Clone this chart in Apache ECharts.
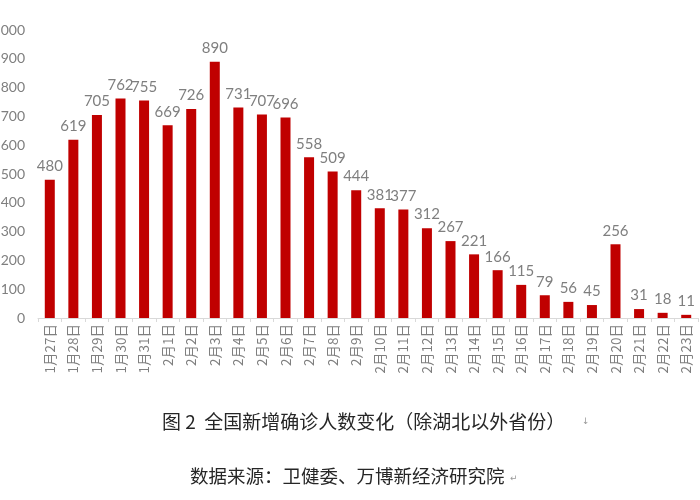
<!DOCTYPE html>
<html>
<head>
<meta charset="utf-8">
<script src="https://cdn.jsdelivr.net/npm/echarts@6/dist/echarts.min.js"></script>
<style>html,body{margin:0;padding:0;background:#fff}#c{width:700px;height:500px}</style>
</head>
<body>
<div id="c"></div>
<script>
var categories = ['1月27日','1月28日','1月29日','1月30日','1月31日','2月1日','2月2日','2月3日','2月4日','2月5日','2月6日','2月7日','2月8日','2月9日','2月10日','2月11日','2月12日','2月13日','2月14日','2月15日','2月16日','2月17日','2月18日','2月19日','2月20日','2月21日','2月22日','2月23日'];
var newCases = [480,619,705,762,755,669,726,890,731,707,696,558,509,444,381,377,312,267,221,166,115,79,56,45,256,31,18,11];
var captionTitle = '图 2  全国新增确诊人数变化（除湖北以外省份）';
var captionSource = '数据来源：卫健委、万博新经济研究院';

var chart = echarts.init(document.getElementById('c'));
chart.setOption({
  animation: false,
  backgroundColor: '#fff',
  grid: {left: 38, right: 2, top: 30, bottom: 182, containLabel: false, outerBoundsMode: 'none'},
  xAxis: {
    type: 'category',
    data: categories,
    axisLine: {lineStyle: {color: '#d9d9d9', width: 1}},
    axisTick: {show: true, length: 4, lineStyle: {color: '#d9d9d9'}},
    axisLabel: {rotate: 90, color: '#7f7f7f', fontSize: 13.5, margin: 6, interval: 0,
      fontFamily: 'Noto Sans CJK SC'}
  },
  yAxis: {
    type: 'value', min: 0, max: 1000, interval: 100,
    splitLine: {show: false},
    axisLine: {show: false},
    axisTick: {show: false},
    axisLabel: {color: '#7f7f7f', fontSize: 14, margin: 13, fontFamily: 'Lato',
      formatter: function (v) { return String(v); }}
  },
  series: [{
    type: 'bar',
    data: newCases,
    barWidth: 10,
    itemStyle: {color: '#c00000'},
    label: {show: true, position: 'top', distance: 6, color: '#7f7f7f', fontSize: 15, fontFamily: 'Lato'}
  }],
  graphic: [
    {type: 'text', left: 162, top: 412, style: {text: captionTitle, fontSize: 19, fill: '#262626', fontFamily: 'Noto Sans CJK SC'}},
    {type: 'text', left: 582, top: 417, style: {text: '↓', fontSize: 9, fill: '#999', fontFamily: 'DejaVu Sans'}},
    {type: 'text', left: 190, top: 467, style: {text: captionSource, fontSize: 18.5, fill: '#262626', fontFamily: 'Noto Sans CJK SC'}},
    {type: 'text', left: 510, top: 474, style: {text: '↵', fontSize: 9, fill: '#999', fontFamily: 'DejaVu Sans'}}
  ]
});
</script>
</body>
</html>
